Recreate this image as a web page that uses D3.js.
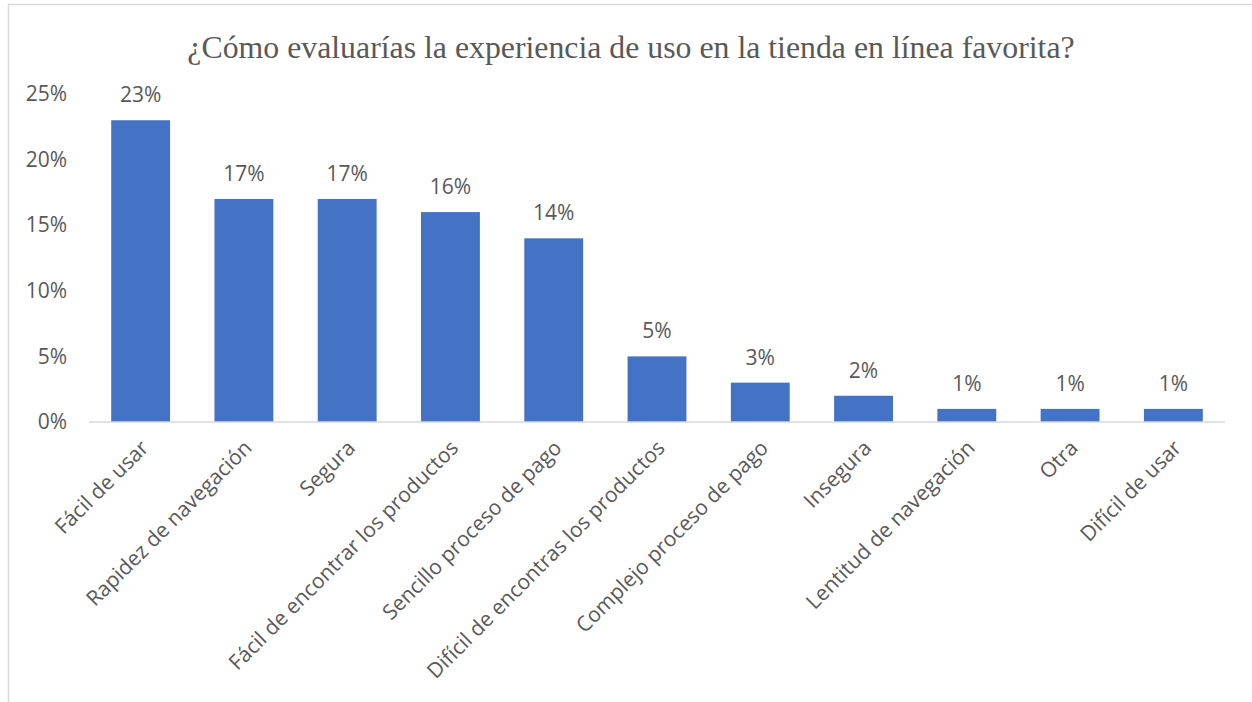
<!DOCTYPE html>
<html>
<head>
<meta charset="utf-8">
<script src="https://cdn.jsdelivr.net/npm/d3@7"></script>
<style>
  html, body { margin: 0; padding: 0; background: #fff; }
  svg { display: block; }
</style>
</head>
<body>
<div id="chart"></div>
<script>
// Datos
const categories = [
  "Fácil de usar", "Rapidez de navegación", "Segura", "Fácil de encontrar los productos",
  "Sencillo proceso de pago", "Difícil de encontras los productos", "Complejo proceso de pago",
  "Insegura", "Lentitud de navegación", "Otra", "Difícil de usar"
];
const values = [23, 17, 17, 16, 14, 5, 3, 2, 1, 1, 1];
const yTicks = [0, 5, 10, 15, 20, 25];
const title = "¿Cómo evaluarías la experiencia de uso en la tienda en línea favorita?";

const W = 1252, H = 702;
const m = { top: 94, right: 27, bottom: 280, left: 89 };
const C = { bar: "#4472C4", txt: "#595959", axis: "#d9d9d9", border: "#d9d9d9" };
const font = "'Open Sans', sans-serif";
const fs = 21;

const svg = d3.select("#chart").append("svg").attr("width", W).attr("height", H);

// Rahmen (nur links + oben sichtbar)
svg.append("rect").attr("x", 8.5).attr("y", 4.5).attr("width", W + 20).attr("height", H + 20)
  .attr("fill", "none").attr("stroke", C.border).attr("stroke-width", 1.5);

const innerW = W - m.left - m.right, innerH = H - m.top - m.bottom;
const g = svg.append("g").attr("transform", `translate(${m.left},${m.top})`);

const x = d3.scaleBand().domain(categories).range([0, innerW]).paddingInner(0.43).paddingOuter(0.215);
const y = d3.scaleLinear().domain([0, 25]).range([innerH, 0]);

// Titel
svg.append("text").attr("x", 631).attr("y", 58).attr("text-anchor", "middle")
  .attr("font-family", "'Liberation Serif', 'Times New Roman', serif").attr("font-size", 31.8)
  .attr("fill", C.txt).text(title);

// Y-Achse (nur Beschriftung)
const yAx = g.append("g").call(d3.axisLeft(y).tickValues(yTicks).tickFormat(d => d + "%").tickSize(0).tickPadding(22));
yAx.select(".domain").remove();
yAx.selectAll("text").attr("font-family", font).attr("font-size", fs).attr("fill", C.txt);

// Balken
g.selectAll("rect.bar").data(values).join("rect").attr("class", "bar")
  .attr("x", (d, i) => x(categories[i])).attr("width", x.bandwidth())
  .attr("y", d => y(d)).attr("height", d => innerH - y(d)).attr("fill", C.bar);

// Werte
g.selectAll("text.val").data(values).join("text").attr("class", "val")
  .attr("x", (d, i) => x(categories[i]) + x.bandwidth() / 2).attr("y", d => y(d) - 18)
  .attr("text-anchor", "middle").attr("font-family", font).attr("font-size", fs)
  .attr("fill", C.txt).text(d => d + "%");

// X-Achse
g.append("line").attr("x1", 0).attr("x2", innerW).attr("y1", innerH).attr("y2", innerH)
  .attr("stroke", C.axis).attr("stroke-width", 1.5);

g.selectAll("text.cat").data(categories).join("text").attr("class", "cat")
  .attr("transform", d => `translate(${x(d) + x.bandwidth() / 2 + 4},${innerH + 22}) rotate(-45)`)
  .attr("text-anchor", "end").attr("dy", "0.35em")
  .attr("font-family", font).attr("font-size", fs).attr("fill", C.txt).text(d => d);
</script>
</body>
</html>
